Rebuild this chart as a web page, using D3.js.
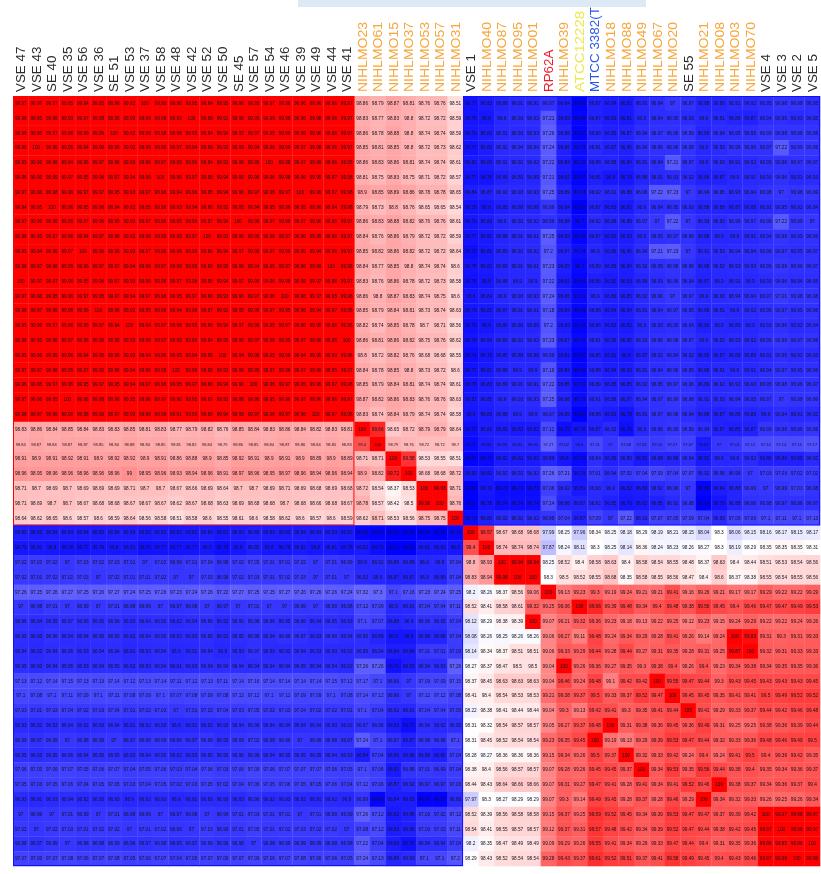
<!DOCTYPE html>
<html><head><meta charset="utf-8">
<script src="https://cdn.jsdelivr.net/npm/d3@7"></script>
<style>html,body{margin:0;padding:0;background:#fff}svg{display:block;filter:blur(.55px)}</style>
</head><body><div id="chart"></div>
<script>
const strainLabels=["VSE 47","VSE 43","SE 40","VSE 35","VSE 56","VSE 36","SE 51","VSE 53","VSE 37","VSE 58","VSE 48","VSE 42","VSE 52","VSE 50","SE 45","VSE 57","VSE 54","VSE 46","VSE 39","VSE 49","VSE 44","VSE 41","NIHLMO23","NIHLMO61","NIHLMO15","NIHLMO37","NIHLMO53","NIHLMO57","NIHLMO31","VSE 1","NIHLMO40","NIHLMO87","NIHLMO95","NIHLMO01","RP62A","NIHLMO39","ATCC12228","MTCC 3382(T","NIHLMO18","NIHLMO88","NIHLMO49","NIHLMO67","NIHLMO20","SE 55","NIHLMO21","NIHLMO08","NIHLMO03","NIHLMO70","VSE 4","VSE 3","VSE 2","VSE 5"];
const labelColorKeys=[["NIHLMO","#f7a63c"],["RP62A","#f0182c"],["ATCC","#eee84a"],["MTCC","#2a55e6"],["","#2b2b2b"]];
const colorStops=[96.65,98.3,99.9];
const colorRange=["#0000ff","#ffffff","#ff0000"];

const row00=[99.97,99.97,99.97,99.95,99.94,99.95,99.96,99.92,100,99.93,99.96,99.95,99.94,99.95,99.96,99.95,99.97,99.96,99.96,99.96,99.96,99.97,98.86,98.79,98.87,98.81,98.76,98.76,98.51,96.77,96.83,96.88,96.91,96.91,96.97,96.84,96.66,96.87,96.84,96.82,96.91,96.94,97,96.97,96.88,96.89,96.92,96.92,96.95,96.98,96.98,96.95];
const row01=[99.96,99.95,99.96,99.93,99.97,99.98,99.95,99.93,99.99,99.98,99.93,100,99.98,99.91,99.96,99.95,99.99,99.98,99.96,99.98,99.96,99.97,98.83,98.77,98.83,98.8,98.72,98.72,98.59,96.78,96.8,96.9,96.93,96.93,97.21,96.83,96.68,96.87,96.83,96.81,96.9,96.94,96.95,96.93,96.9,96.91,96.88,96.87,96.94,96.95,96.93,96.95];
const row02=[99.98,99.95,99.97,99.98,99.99,99.99,100,99.92,99.99,99.98,99.96,99.95,99.94,99.94,99.92,99.97,99.95,99.99,99.99,99.96,99.96,99.97,98.86,98.78,98.88,98.8,98.74,98.74,98.59,96.79,96.83,96.91,96.93,96.93,97.26,96.88,96.67,96.89,96.85,96.87,96.94,96.97,96.96,96.99,96.89,96.94,96.95,96.95,96.99,96.98,96.98,96.98];
const row03=[99.96,100,99.96,99.95,99.94,99.99,99.96,99.92,99.99,99.99,99.97,99.94,99.99,99.93,99.99,99.94,99.96,99.99,99.97,99.98,99.96,99.97,98.85,98.81,98.85,98.8,98.72,98.73,98.62,96.77,96.83,96.92,96.94,96.94,97.24,96.85,96.73,96.91,96.87,96.86,96.94,96.96,96.96,96.98,96.9,96.93,96.96,96.96,96.97,97.22,96.99,96.99];
const row04=[99.95,99.96,99.96,99.94,99.96,99.97,99.96,99.93,99.96,99.97,99.95,99.96,99.94,99.93,99.96,99.95,100,99.98,99.97,99.96,99.96,99.95,98.86,98.83,98.86,98.81,98.74,98.74,98.61,96.82,96.83,96.91,96.92,96.92,97.22,96.84,96.72,96.88,96.88,96.84,96.91,96.94,97.21,96.97,96.9,96.93,96.91,96.92,96.95,96.96,96.97,96.97];
const row05=[99.96,99.95,99.95,99.97,99.95,99.96,99.97,99.94,99.96,100,99.96,99.97,99.95,99.94,99.95,99.96,99.96,99.98,99.96,99.95,99.97,99.98,98.81,98.75,98.83,98.75,98.71,98.72,98.57,96.77,96.78,96.86,96.89,96.89,97.21,96.82,96.67,96.85,96.8,96.79,96.88,96.91,96.93,96.92,96.86,96.87,96.9,96.91,96.93,96.96,96.91,96.93];
const row06=[99.97,99.96,99.98,99.96,99.97,99.97,99.95,99.93,99.97,99.96,99.94,99.96,99.95,99.94,99.96,99.97,99.98,99.97,100,99.96,99.97,99.98,98.9,98.85,98.89,98.86,98.78,98.78,98.65,96.84,96.87,96.92,96.93,96.93,97.25,96.89,96.73,96.92,96.91,96.88,96.96,97.22,97.23,97,96.94,96.95,96.93,96.94,96.98,97,96.98,96.99];
const row07=[99.94,99.95,100,99.96,99.95,99.96,99.94,99.92,99.95,99.96,99.93,99.94,99.96,99.92,99.95,99.94,99.95,99.96,99.95,99.96,99.94,99.98,98.79,98.73,98.8,98.76,98.65,98.65,98.54,96.78,96.8,96.85,96.88,96.88,96.99,96.84,96.65,96.87,96.83,96.82,96.9,96.94,96.95,96.93,96.88,96.88,96.87,96.88,96.91,96.95,96.92,96.94];
const row08=[99.97,99.96,99.96,99.95,99.97,99.96,99.95,99.93,99.97,99.96,99.95,99.96,99.97,99.94,100,99.96,99.97,99.96,99.97,99.96,99.95,99.97,98.86,98.83,98.88,98.82,98.76,98.76,98.61,96.79,96.83,96.9,96.92,96.92,96.96,96.88,96.7,96.92,96.88,96.88,96.97,97,97.22,97,96.93,96.93,96.96,96.97,96.99,97.22,96.99,97];
const row09=[99.96,99.95,99.97,99.96,99.94,99.97,99.96,99.92,99.96,99.95,99.95,99.97,100,99.93,99.96,99.95,99.96,99.97,99.96,99.95,99.96,99.97,98.84,98.76,98.86,98.79,98.72,98.72,98.59,96.77,96.81,96.88,96.91,96.91,97.25,96.83,96.68,96.87,96.82,96.83,96.9,96.95,96.97,96.96,96.88,96.9,96.9,96.91,96.94,96.98,96.95,96.96];
const row10=[99.95,99.94,99.96,99.97,100,99.96,99.95,99.93,99.97,99.95,99.96,99.95,99.96,99.94,99.97,99.96,99.97,99.96,99.95,99.94,99.96,99.97,98.85,98.82,98.86,98.82,98.72,98.72,98.64,96.75,96.81,96.89,96.92,96.92,97.2,96.87,96.74,96.9,96.86,96.86,96.94,97.21,97.23,97,96.91,96.93,96.94,96.94,96.96,96.97,96.95,96.97];
const row11=[99.96,99.97,99.96,99.95,99.96,99.97,99.97,99.94,99.96,99.97,99.96,99.95,99.96,99.95,99.96,99.94,99.95,99.97,99.96,99.96,100,99.98,98.84,98.77,98.85,98.8,98.74,98.74,98.6,96.78,96.82,96.89,96.91,96.91,97.23,96.85,96.7,96.89,96.85,96.84,96.92,96.95,96.98,96.96,96.88,96.92,96.93,96.93,96.96,96.99,96.96,96.97];
const row12=[100,99.97,99.97,99.96,99.95,99.96,99.97,99.93,99.96,99.98,99.97,99.96,99.95,99.94,99.97,99.96,99.96,99.98,99.95,99.97,99.96,99.97,98.83,98.76,98.86,98.78,98.72,98.73,98.58,96.76,96.8,96.88,96.9,96.9,97.22,96.82,96.69,96.86,96.82,96.83,96.89,96.93,96.96,96.94,96.87,96.9,96.91,96.9,96.93,96.96,96.94,96.95];
const row13=[99.97,99.96,99.95,99.96,99.97,99.95,99.97,99.94,99.97,99.96,99.95,99.97,99.96,99.93,99.96,99.97,99.96,100,99.96,99.97,99.95,99.96,98.86,98.8,98.87,98.83,98.74,98.75,98.6,96.8,96.84,96.9,96.93,96.93,97.24,96.86,96.71,96.9,96.86,96.85,96.92,96.96,97,96.97,96.9,96.93,96.94,96.94,96.97,97.01,96.98,96.98];
const row14=[99.96,99.97,99.96,99.98,99.96,100,99.96,99.92,99.95,99.96,99.94,99.96,99.97,99.92,99.95,99.96,99.97,99.95,99.96,99.94,99.97,99.96,98.85,98.79,98.84,98.81,98.73,98.74,98.63,96.79,96.82,96.87,96.91,96.91,97.18,96.84,96.69,96.88,96.84,96.84,96.91,96.94,96.97,96.95,96.89,96.91,96.9,96.92,96.95,96.97,96.95,96.96];
const row15=[99.95,99.96,99.97,99.96,99.95,99.97,99.94,100,99.94,99.97,99.96,99.95,99.96,99.94,99.97,99.96,99.95,99.97,99.96,99.95,99.96,99.95,98.82,98.74,98.85,98.78,98.7,98.71,98.56,96.76,96.8,96.86,96.89,96.89,97.2,96.83,96.68,96.86,96.83,96.82,96.9,96.93,96.95,96.94,96.86,96.9,96.89,96.9,96.93,96.96,96.92,96.94];
const row16=[99.96,99.95,99.96,99.97,99.96,99.96,99.95,99.93,99.96,99.97,99.95,99.96,99.94,99.95,99.96,99.97,99.96,99.95,99.97,99.96,99.95,100,98.86,98.81,98.86,98.82,98.75,98.76,98.62,96.78,96.84,96.89,96.92,96.92,97.23,96.87,96.71,96.91,96.86,96.85,96.93,96.96,96.98,96.97,96.9,96.92,96.93,96.92,96.96,96.99,96.97,96.98];
const row17=[99.95,99.96,99.95,99.96,99.94,99.95,99.96,99.93,99.94,99.96,99.95,99.94,99.95,100,99.94,99.96,99.95,99.96,99.94,99.95,99.93,99.96,98.8,98.72,98.82,98.76,98.68,98.68,98.55,96.74,96.79,96.85,96.88,96.88,96.98,96.81,96.66,96.85,96.81,96.8,96.87,96.92,96.94,96.92,96.85,96.87,96.88,96.89,96.91,96.95,96.92,96.93];
const row18=[99.97,99.97,99.96,99.95,99.97,99.96,99.96,99.94,99.96,99.95,100,99.96,99.95,99.93,99.96,99.95,99.97,99.96,99.97,99.96,99.95,99.97,98.84,98.78,98.85,98.8,98.73,98.72,98.6,96.77,96.82,96.88,96.9,96.9,97.19,96.84,96.69,96.88,96.84,96.83,96.91,96.94,96.96,96.95,96.88,96.91,96.9,96.91,96.94,96.97,96.95,96.96];
const row19=[99.96,99.95,99.97,99.96,99.95,99.97,99.95,99.94,99.97,99.96,99.95,99.97,99.96,99.94,99.96,100,99.96,99.97,99.95,99.96,99.97,99.96,98.85,98.79,98.84,98.81,98.74,98.74,98.61,96.78,96.83,96.89,96.91,96.91,97.22,96.85,96.72,96.89,96.85,96.85,96.92,96.95,96.97,96.96,96.89,96.92,96.92,96.93,96.95,96.98,96.96,96.97];
const row20=[99.97,99.96,99.95,100,99.96,99.98,99.96,99.95,99.96,99.97,99.96,99.95,99.97,99.93,99.98,99.96,99.95,99.96,99.97,99.96,99.96,99.97,98.87,98.82,98.86,98.83,98.76,98.76,98.63,96.81,96.85,96.9,96.93,96.93,97.25,96.88,96.73,96.91,96.88,96.87,96.94,96.97,96.99,96.98,96.91,96.93,96.94,96.95,96.97,97,96.98,96.99];
const row21=[99.98,99.97,99.96,99.99,99.98,99.96,99.97,99.93,99.98,99.99,99.91,99.93,99.96,99.94,99.98,99.97,99.96,99.97,99.96,100,99.97,99.98,98.83,98.74,98.84,98.79,98.74,98.74,98.58,96.8,96.83,96.88,96.9,96.9,96.97,96.85,96.62,96.88,96.83,96.78,96.91,96.97,96.98,96.94,96.88,96.87,96.89,96.89,96.9,96.94,96.91,96.92];
const row22=[98.83,98.86,98.84,98.85,98.84,98.83,98.83,98.85,98.81,98.83,98.77,98.79,98.82,98.76,98.85,98.84,98.83,98.86,98.84,98.82,98.83,98.81,100,99.66,98.65,98.72,98.79,98.79,98.64,96.75,96.83,96.83,96.82,96.82,97.12,96.75,96.78,96.87,96.92,96.75,96.9,96.96,96.99,96.99,96.94,96.87,96.85,96.87,96.99,96.98,96.96,96.99];
const row23=[98.84,98.87,98.84,98.87,98.87,98.85,98.84,98.88,98.84,98.85,98.81,98.82,98.84,98.79,98.86,98.85,98.84,98.87,98.86,98.84,98.85,98.83,99.4,100,98.79,98.76,98.72,98.72,98.7,96.72,96.83,96.89,96.91,96.91,97.27,97.02,96.9,97.11,97,97.08,97.03,97.03,97.07,97.07,96.82,97,97.01,97.12,97.14,97.14,97.14,97.17];
const row24=[98.91,98.9,98.91,98.92,98.91,98.9,98.92,98.92,98.9,98.91,98.86,98.88,98.9,98.85,98.92,98.91,98.9,98.91,98.9,98.89,98.9,98.89,98.71,98.71,100,99.58,98.53,98.55,98.51,96.67,96.71,96.82,96.82,96.82,96.89,96.8,96.71,96.94,96.86,96.89,96.82,96.88,96.88,96.94,96.81,96.9,96.9,96.92,96.86,96.86,96.85,96.92];
const row25=[98.96,98.95,98.96,98.96,98.96,98.96,98.96,99,98.95,98.96,98.93,98.94,98.96,98.91,98.97,98.96,98.95,98.97,98.96,98.94,98.96,98.94,98.9,98.82,99.72,100,98.68,98.68,98.72,96.82,96.82,96.92,96.92,96.92,97.26,97.21,96.79,97.01,96.94,97.02,97.04,97.09,97.04,97.07,96.92,96.96,96.96,97,97.03,97.03,97.02,97.02];
const row26=[98.71,98.7,98.69,98.7,98.69,98.69,98.69,98.71,98.7,98.7,98.67,98.66,98.69,98.64,98.7,98.7,98.69,98.71,98.69,98.68,98.69,98.68,98.72,98.54,98.37,98.53,100,99.93,98.71,96.53,96.79,96.73,96.73,96.73,97.06,96.92,96.81,96.93,96.9,96.82,96.83,96.92,96.96,97,96.68,96.84,96.88,96.99,97,96.99,97.03,96.98];
const row27=[98.71,98.69,98.7,98.7,98.67,98.68,98.68,98.67,98.67,98.67,98.62,98.67,98.68,98.63,98.69,98.68,98.68,98.7,98.68,98.66,98.68,98.67,98.78,98.57,98.42,98.5,99.96,100,98.76,96.6,96.78,96.74,96.74,96.74,97.14,96.88,96.87,96.92,96.85,96.79,96.82,96.85,96.92,96.98,96.64,96.78,96.88,96.96,96.98,96.97,96.96,96.97];
const row28=[98.64,98.62,98.65,98.6,98.57,98.6,98.59,98.64,98.56,98.58,98.51,98.58,98.6,98.55,98.61,98.6,98.58,98.62,98.6,98.57,98.6,98.59,98.62,98.71,98.53,98.56,98.75,98.75,100,96.73,96.86,96.92,96.92,96.92,96.99,97.04,96.87,97.09,97,97.22,96.93,97.07,97.05,97.09,97.04,96.93,97.06,97.06,97.1,97.11,97.1,97.13];
const row29=[96.85,96.83,96.84,96.84,96.84,96.83,96.84,96.84,96.82,96.83,96.82,96.82,96.84,96.81,96.83,96.85,96.83,96.83,96.84,96.84,96.83,96.82,96.69,96.67,96.63,96.64,96.66,96.64,96.71,100,99.57,98.67,98.68,98.68,97.99,98.25,97.96,98.34,98.25,98.18,98.29,98.19,98.21,98.15,98.04,98.3,98.06,98.15,98.16,98.17,98.15,98.17];
const row30=[96.79,96.81,96.8,96.78,96.77,96.79,96.8,96.81,96.76,96.77,96.77,96.77,96.8,96.75,96.8,96.85,96.8,96.79,96.82,96.8,96.81,96.78,96.82,96.75,96.6,96.62,96.81,96.81,96.8,99.4,100,98.74,98.74,98.74,97.87,98.24,98.11,98.3,98.25,98.14,98.36,98.24,98.23,98.26,98.27,98.3,98.19,98.29,98.35,98.35,98.35,98.31];
const row31=[97.02,97.03,97.02,97,97.03,97.02,97.03,97.01,97,97.02,96.99,97.01,97.04,96.98,97.02,97.05,97.01,97.01,97.02,97,97.01,96.99,96.9,96.92,96.89,96.89,96.9,96.9,97.04,98.8,98.93,100,99.94,99.94,98.25,98.52,98.4,98.58,98.63,98.4,98.58,98.54,98.55,98.48,98.37,98.63,98.4,98.44,98.51,98.53,98.54,98.56];
const row32=[97.02,97.01,97.02,97.02,97.03,97,97.02,97.01,97.01,97.02,97,97,97.03,96.98,97.02,97.03,97.01,97.02,97.03,97,97.01,97,96.92,96.9,96.87,96.87,96.9,96.89,97.04,98.83,98.94,99.98,100,100,98.3,98.5,98.52,98.55,98.68,98.35,98.58,98.55,98.56,98.47,98.4,98.6,98.37,98.38,98.55,98.54,98.55,98.56];
const row33=[97.26,97.25,97.26,97.27,97.25,97.26,97.27,97.24,97.25,97.26,97.23,97.24,97.26,97.22,97.27,97.25,97.25,97.27,97.26,97.26,97.26,97.24,97.32,97.3,97.1,97.16,97.23,97.24,97.25,98.2,98.26,98.37,98.56,99.06,100,99.13,99.23,99.3,99.19,99.24,99.21,99.21,99.41,99.16,99.26,99.21,99.17,99.17,99.29,99.22,99.22,99.29];
const row34=[97,96.98,97.01,97,96.99,97,97.01,96.98,96.99,97,96.97,96.98,97,96.97,97,97.01,97,97,96.99,97,96.99,96.98,97.12,97.09,96.9,96.91,97.04,97.04,97.11,98.52,98.41,98.58,98.61,99.32,99.25,99.36,100,99.66,99.39,99.48,99.34,99.4,99.48,99.38,99.56,99.45,99.4,99.46,99.47,99.47,99.49,99.53];
const row35=[96.96,96.94,96.95,96.97,96.95,96.95,96.96,96.93,96.94,96.95,96.92,96.94,96.96,96.92,96.96,96.98,96.96,96.95,96.96,96.94,96.95,96.93,97.1,97.07,96.88,96.9,96.96,96.95,97.04,98.12,98.29,98.38,98.39,100,99.07,99.21,99.32,99.36,99.23,99.18,99.13,99.22,99.25,99.12,99.23,99.15,99.24,99.29,99.22,99.22,99.24,99.26];
const row36=[96.95,96.93,96.96,96.94,96.94,96.95,96.95,96.92,96.94,96.95,96.92,96.93,96.95,96.91,96.95,96.96,96.94,96.96,96.97,96.93,96.96,96.94,96.95,96.89,96.8,96.8,96.88,96.88,97.04,98.08,98.26,98.25,98.26,98.26,99.06,99.27,99.11,99.48,99.24,99.34,99.29,99.28,99.41,99.26,99.14,99.24,100,99.83,99.31,99.3,99.31,99.33];
const row37=[96.94,96.92,96.94,96.95,96.93,96.94,96.94,96.91,96.93,96.94,96.9,96.92,96.94,96.9,96.93,96.97,96.93,96.93,96.94,96.93,96.93,96.92,96.95,96.94,96.84,96.84,97.01,97.01,97.03,98.14,98.34,98.37,98.51,98.51,99.06,99.33,99.29,99.44,99.28,99.44,99.27,99.31,99.35,99.28,99.31,99.25,99.87,100,99.32,99.31,99.33,99.33];
const row38=[96.95,96.93,96.94,96.95,96.93,96.94,96.95,96.92,96.93,96.94,96.91,96.93,96.94,96.94,96.94,96.94,96.94,96.94,96.95,96.94,96.94,96.92,97.26,97.26,96.76,96.83,96.94,96.93,97.26,98.27,98.37,98.47,98.5,98.5,99.04,100,99.26,99.36,99.27,99.35,99.3,99.38,99.4,99.26,99.4,99.23,99.34,99.38,99.34,99.35,99.35,99.36];
const row39=[97.13,97.12,97.14,97.15,97.13,97.13,97.14,97.12,97.13,97.14,97.11,97.12,97.13,97.11,97.14,97.16,97.14,97.14,97.14,97.14,97.15,97.12,97.17,97.1,96.96,97,97.09,97.09,97.15,98.37,98.45,98.63,98.63,98.63,99.04,99.46,99.24,99.48,99.1,99.42,99.42,100,99.55,99.47,99.44,99.3,99.43,99.45,99.43,99.43,99.43,99.45];
const row40=[97.1,97.08,97.1,97.11,97.09,97.1,97.11,97.08,97.09,97.1,97.07,97.08,97.09,97.08,97.12,97.12,97.1,97.11,97.09,97.09,97.1,97.08,97.14,97.12,96.96,97,97.12,97.12,97.08,98.41,98.4,98.54,98.53,98.53,99.21,99.38,99.37,99.5,99.33,99.37,99.52,99.47,100,99.45,99.45,99.35,99.41,99.41,99.5,99.49,99.52,99.52];
const row41=[97.03,97.01,97.03,97.04,97.02,97.03,97.04,97.01,97.02,97.03,97,97.01,97.02,97.04,97.03,97.05,97.02,97.03,97.04,97.02,97.02,97.01,97.1,97.04,96.92,96.91,97.04,97.04,97.03,98.22,98.38,98.41,98.44,98.44,99.04,99.3,99.13,99.42,99.41,99.3,99.35,99.41,99.44,100,99.41,99.29,99.33,99.37,99.44,99.42,99.46,99.48];
const row42=[96.93,96.92,96.93,96.94,96.92,96.93,96.94,96.91,96.92,96.93,96.9,96.91,96.92,96.93,96.94,96.96,96.94,96.94,96.94,96.94,96.93,96.92,96.97,96.96,96.83,96.75,96.94,96.92,96.95,98.31,98.32,98.54,98.57,98.57,99.05,99.27,99.37,99.48,100,99.31,99.38,99.36,99.45,99.36,99.49,99.31,99.25,99.25,99.38,99.36,99.39,99.44];
const row43=[96.99,96.97,96.99,97,96.98,96.99,97,96.97,96.98,96.99,96.96,96.97,96.99,96.95,96.99,97.02,96.98,96.99,97,96.99,96.98,96.97,97.24,97.1,96.97,96.87,96.98,96.98,97.1,98.31,98.45,98.52,98.54,98.54,99.23,99.35,99.45,100,99.19,99.13,99.29,99.39,99.53,99.47,99.44,99.32,99.33,99.36,99.48,99.46,99.49,99.5];
const row44=[96.95,96.93,96.95,96.96,96.94,96.95,96.95,96.93,96.94,96.95,96.92,96.93,96.95,96.95,96.96,96.96,96.94,96.95,96.95,96.95,96.94,96.93,96.84,97.04,96.86,96.86,96.88,96.85,97.04,98.28,98.27,98.36,98.36,98.36,99.15,99.34,99.26,99.5,99.37,100,99.32,99.33,99.42,99.24,99.4,99.24,99.41,99.5,99.4,99.39,99.42,99.35];
const row45=[97.06,97.05,97.06,97.07,97.05,97.06,97.07,97.04,97.05,97.06,97.03,97.04,97.06,97.03,97.06,97.09,97.06,97.07,97.07,97.07,97.06,97.05,97.1,97.06,96.82,96.98,97.01,96.99,97.04,98.38,98.4,98.56,98.57,98.57,99.07,99.28,99.26,99.45,99.45,99.37,100,99.34,99.53,99.35,99.56,99.44,99.38,99.4,99.35,99.34,99.36,99.37];
const row46=[97.05,97.03,97.05,97.06,97.04,97.05,97.05,97.03,97.04,97.05,97.02,97.03,97.05,97.02,97.04,97.06,97.05,97.06,97.05,97.05,97.06,97.04,97.12,97.06,96.87,96.92,96.97,96.97,97.03,98.44,98.43,98.64,98.66,98.66,99.07,99.31,99.27,99.47,99.41,99.28,99.41,99.34,99.41,99.52,99.46,100,99.38,99.37,99.34,99.36,99.37,99.4];
const row47=[96.93,96.91,96.93,96.94,96.92,96.93,96.93,96.9,96.92,96.93,96.9,96.91,96.93,96.93,96.93,96.96,96.92,96.93,96.92,96.91,96.92,96.9,96.99,96.69,96.84,96.83,96.67,96.67,96.93,97.97,98.3,98.27,98.29,98.29,99.07,99.3,99.14,99.49,99.45,99.28,99.37,99.28,99.46,99.29,100,99.34,99.32,99.33,99.26,99.25,99.26,99.34];
const row48=[97,96.99,97,97.01,96.99,97,97.01,96.98,96.99,97,96.97,96.98,97,96.99,97.01,97.03,97.01,97.01,97,97.01,96.99,96.99,97.26,97.12,96.82,96.86,97.03,97.02,97.12,98.52,98.39,98.56,98.58,98.58,99.15,99.37,99.25,99.59,99.52,99.45,99.34,99.39,99.53,99.47,99.47,99.37,99.39,99.42,100,99.97,99.98,99.97];
const row49=[97.02,97,97.02,97.03,97.01,97.02,97.02,97,97.01,97.02,96.99,97,97.03,96.99,97.01,97.05,97.01,97.02,97.03,97.02,97.02,97,97.08,97.12,96.83,96.86,97.03,97.03,97.11,98.54,98.41,98.55,98.57,98.57,99.12,99.37,99.31,99.57,99.48,99.42,99.34,99.39,99.52,99.47,99.44,99.38,99.42,99.45,99.97,100,99.98,99.97];
const row50=[96.98,96.97,96.99,97,96.98,96.98,96.99,96.96,96.97,96.98,96.95,96.97,96.99,96.96,96.98,97,96.98,96.99,96.99,96.99,96.98,96.98,97.22,97.04,96.83,96.76,96.94,96.94,97.04,98.2,98.35,98.47,98.49,98.49,99.09,99.29,99.26,99.55,99.41,99.34,99.29,99.33,99.47,99.44,99.4,99.31,99.35,99.36,99.86,99.85,99.86,100];
const row51=[97.07,97.06,97.07,97.08,97.06,97.07,97.08,97.05,97.06,97.07,97.04,97.05,97.07,97.06,97.07,97.09,97.06,97.07,97.08,97.06,97.06,97.05,97.24,97.13,96.89,96.93,97.1,97.1,97.2,98.29,98.43,98.52,98.54,98.54,99.28,99.43,99.37,99.61,99.52,99.51,99.37,99.41,99.58,99.49,99.45,99.4,99.43,99.46,99.97,99.98,100,99.98];
const allRows=[row00,row01,row02,row03,row04,row05,row06,row07,row08,row09,row10,row11,row12,row13,row14,row15,row16,row17,row18,row19,row20,row21,row22,row23,row24,row25,row26,row27,row28,row29,row30,row31,row32,row33,row34,row35,row36,row37,row38,row39,row40,row41,row42,row43,row44,row45,row46,row47,row48,row49,row50,row51];
const groupEnds=[0,22,29,52];

const W=821,H=874;
const svg=d3.select("#chart").append("svg").attr("width",W).attr("height",H);
svg.append("rect").attr("x",298).attr("y",0).attr("width",348).attr("height",7).attr("fill","#dce9f6");
const idx=d3.range(strainLabels.length);
const x=d3.scaleBand().domain(idx).range([13,820]);
const y=d3.scaleBand().domain(idx).range([96,866]);
const color=d3.scaleLinear().domain(colorStops).range(colorRange).clamp(true);
const cells=allRows.flatMap((r,i)=>r.map((v,j)=>({i,j,v})));
svg.append("g").selectAll("rect").data(cells).join("rect")
  .attr("x",d=>x(d.j)).attr("y",d=>y(d.i)).attr("width",x.bandwidth()+.3).attr("height",y.bandwidth()+.3)
  .attr("fill",d=>color(d.v));
// block outlines
const outlines=[[0,1,0,1,"#ff0000"],[1,3,0,1,"#1a1aff"],[0,1,1,3,"#1a1aff"],[2,3,0,1,"#1a1aff"]];
const edge=(s,k)=>k===52?s.range()[1]:s(k);
svg.append("g").selectAll("rect").data([[0,22,0,29,"#ff0000"],[29,52,0,29,"#1010ff"],[0,29,29,52,"#1010ff"]]).join("rect")
  .attr("x",d=>edge(x,d[0])+.5).attr("y",d=>edge(y,d[2])+.5)
  .attr("width",d=>edge(x,d[1])-edge(x,d[0])-1).attr("height",d=>edge(y,d[3])-edge(y,d[2])-1)
  .attr("fill","none").attr("stroke",d=>d[4]).attr("stroke-width",1);
svg.append("g").selectAll("text").data(cells).join("text")
  .attr("x",d=>x(d.j)+x.bandwidth()/2).attr("y",d=>y(d.i)+y.bandwidth()/2+1.6)
  .attr("text-anchor","middle").attr("font-family","Liberation Sans, Arial, sans-serif")
  .attr("font-size",d=>d.i===23?4:4.7).attr("fill","#14141e").text(d=>String(d.v));
const labelColor=s=>labelColorKeys.find(k=>s.startsWith(k[0]))[1];
svg.append("g").selectAll("text").data(strainLabels).join("text")
  .attr("transform",(d,i)=>`translate(${x(i)+x.bandwidth()/2+4.5},92) rotate(-90)`)
  .attr("font-family","Liberation Sans, Arial, sans-serif").attr("font-size",13.4)
  .attr("textLength",d=>d.startsWith("NIHLMO")?70:d.startsWith("ATCC")?81:null)
  .attr("lengthAdjust","spacingAndGlyphs")
  .attr("fill",labelColor).text(d=>d);
</script></body></html>
